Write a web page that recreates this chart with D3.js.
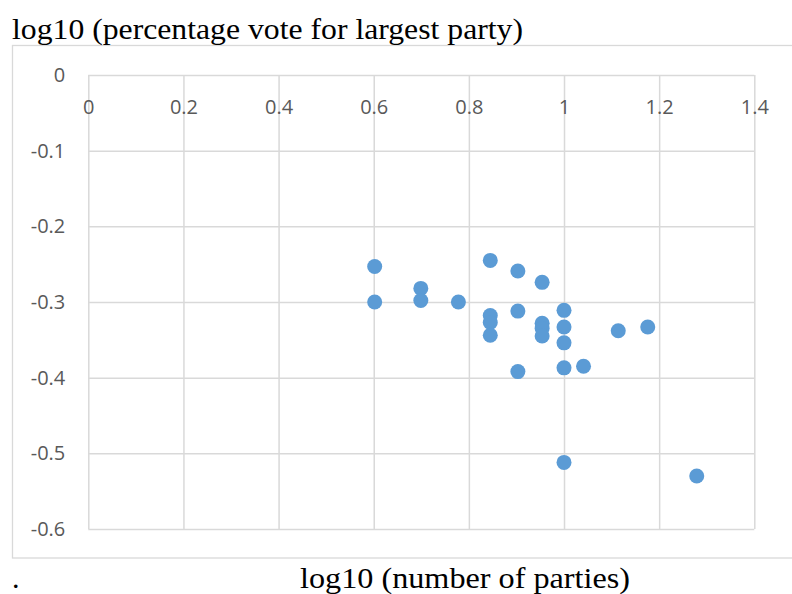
<!DOCTYPE html>
<html>
<head>
<meta charset="utf-8">
<script src="https://cdn.jsdelivr.net/npm/d3@7/dist/d3.min.js"></script>
<style>
  html, body { margin: 0; padding: 0; background: #fff; }
  svg { display: block; }
</style>
</head>
<body>
<svg id="chart" width="792" height="594"></svg>
<script>
// log10 of the number of parties
const logParties = [
  0.602, 0.602,
  0.699, 0.699,
  0.778,
  0.845, 0.845, 0.845, 0.845,
  0.903, 0.903, 0.903,
  0.954, 0.954, 0.954, 0.954,
  1.000, 1.000, 1.000, 1.000, 1.000,
  1.041,
  1.114,
  1.176,
  1.279
];
// log10 of the percentage vote for the largest party
const logLargestVote = [
  -0.253, -0.300,
  -0.282, -0.298,
  -0.300,
  -0.245, -0.318, -0.327, -0.344,
  -0.259, -0.312, -0.392,
  -0.274, -0.328, -0.335, -0.345,
  -0.311, -0.333, -0.354, -0.387, -0.512,
  -0.385,
  -0.338,
  -0.333,
  -0.530
];
const xTicks = [0, 0.2, 0.4, 0.6, 0.8, 1, 1.2, 1.4];
const yTicks = [0, -0.1, -0.2, -0.3, -0.4, -0.5, -0.6];

const svg = d3.select("#chart");
const gridColor = "#d9d9d9";
const labelColor = "#595959";
const dotColor = "#5b9bd5";
const tickFont = "'Open Sans', sans-serif";
const titleFont = "'Liberation Serif', 'Times New Roman', serif";

// plain hyphen for negatives, as in the spreadsheet style
const fmt = v => d3.format("~g")(v).replace("\u2212", "-");

const plot = { left: 88.3, right: 754.3, top: 75, bottom: 529 };
const x = d3.scaleLinear().domain([0, 1.4]).range([plot.left, plot.right]);
const y = d3.scaleLinear().domain([0, -0.6]).range([plot.top, plot.bottom]);

// chart frame
svg.append("rect")
  .attr("x", 12.5).attr("y", 45.5)
  .attr("width", 800).attr("height", 512.5)
  .attr("fill", "none").attr("stroke", gridColor).attr("stroke-width", 1.3);

// vertical gridlines + x tick labels
const xAxis = d3.axisTop(x).tickValues(xTicks).tickSize(-(plot.bottom - plot.top)).tickFormat(fmt);
const gx = svg.append("g").attr("transform", `translate(0,${plot.top})`).call(xAxis);
gx.select(".domain").remove();
gx.selectAll(".tick line").attr("stroke", gridColor).attr("stroke-width", 1.5);
gx.selectAll(".tick text")
  .attr("y", 39).attr("dy", 0)
  .attr("fill", labelColor)
  .style("font-family", tickFont)
  .style("font-size", "20px");

// horizontal gridlines + y tick labels
const yAxis = d3.axisLeft(y).tickValues(yTicks).tickSize(-(plot.right - plot.left)).tickFormat(fmt);
const gy = svg.append("g").attr("transform", `translate(${plot.left},0)`).call(yAxis);
gy.select(".domain").remove();
gy.selectAll(".tick line").attr("stroke", gridColor).attr("stroke-width", 1.5);
gy.selectAll(".tick text")
  .attr("x", -23)
  .attr("fill", labelColor)
  .style("font-family", tickFont)
  .style("font-size", "20px");

// data points
svg.append("g").selectAll("circle")
  .data(logParties.map((v, i) => [v, logLargestVote[i]]))
  .join("circle")
  .attr("cx", d => x(d[0]))
  .attr("cy", d => y(d[1]))
  .attr("r", 7.5)
  .attr("fill", dotColor);

// titles
svg.append("text")
  .attr("x", 12).attr("y", 39)
  .attr("textLength", 511).attr("lengthAdjust", "spacingAndGlyphs")
  .style("font-family", titleFont)
  .style("font-size", "30px")
  .attr("fill", "#000")
  .text("log10 (percentage vote for largest party)");

svg.append("text")
  .attr("x", 12).attr("y", 588)
  .style("font-family", titleFont)
  .style("font-size", "30px")
  .attr("fill", "#000")
  .text(".");

svg.append("text")
  .attr("x", 300).attr("y", 588)
  .attr("textLength", 330).attr("lengthAdjust", "spacingAndGlyphs")
  .style("font-family", titleFont)
  .style("font-size", "30px")
  .attr("fill", "#000")
  .text("log10 (number of parties)");
</script>
</body>
</html>
